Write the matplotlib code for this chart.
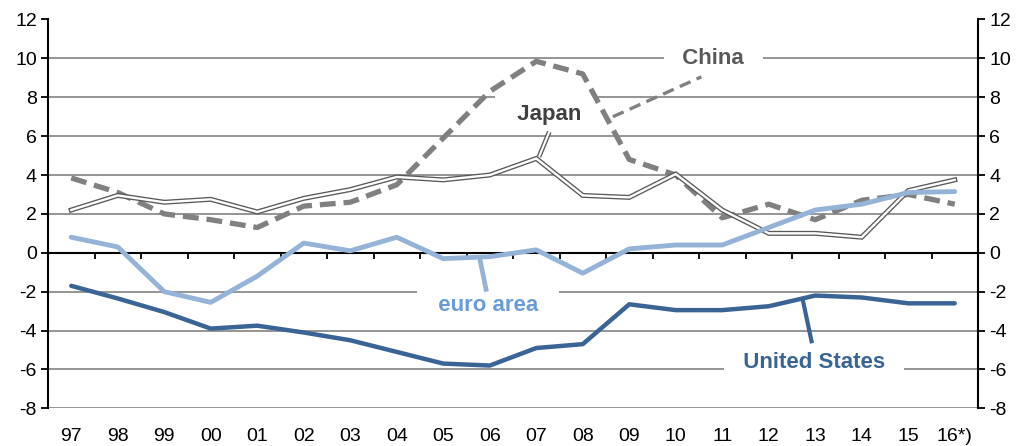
import matplotlib
matplotlib.use('Agg')
import matplotlib.pyplot as plt
import numpy as np

plt.rcParams['font.family'] = ['Liberation Sans', 'DejaVu Sans']
plt.rcParams['axes.unicode_minus'] = False

years = ['97', '98', '99', '00', '01', '02', '03', '04', '05', '06',
         '07', '08', '09', '10', '11', '12', '13', '14', '15', '16*)']
united_states = [-1.7, -2.35, -3.05, -3.9, -3.75, -4.1, -4.5, -5.1, -5.7, -5.8,
                 -4.9, -4.7, -2.65, -2.95, -2.95, -2.75, -2.2, -2.3, -2.6, -2.6]
euro_area = [0.8, 0.3, -2.0, -2.55, -1.2, 0.5, 0.1, 0.8, -0.3, -0.2,
             0.15, -1.05, 0.2, 0.4, 0.4, 1.3, 2.2, 2.5, 3.1, 3.15]
japan = [2.2, 2.95, 2.6, 2.75, 2.1, 2.8, 3.25, 3.9, 3.75, 4.0,
         4.85, 2.95, 2.85, 4.05, 2.2, 1.0, 1.0, 0.8, 3.2, 3.75]
china = [3.85, 3.1, 2.0, 1.7, 1.3, 2.4, 2.6, 3.5, 5.9, 8.3,
         9.85, 9.2, 4.8, 4.0, 1.8, 2.5, 1.7, 2.7, 3.0, 2.5]
yticks = [-8, -6, -4, -2, 0, 2, 4, 6, 8, 10, 12]

C_US = '#3A6496'
C_EURO = '#95B3D7'
C_EURO_TXT = '#6A9BD8'
C_JAPAN = '#595959'
C_CHINA = '#808080'
C_GRID = '#8C8C8C'

fig = plt.figure(figsize=(10.24, 4.46), dpi=100)
ax = fig.add_axes([48 / 1024, 1 - 408.3 / 446, 930 / 1024, (408.3 - 19.5) / 446])
x = np.arange(len(years))
ax.set_xlim(-0.5, len(years) - 0.5)
ax.set_ylim(min(yticks), max(yticks))
ax.set_yticks(yticks, [str(v) for v in yticks])
ax.yaxis.grid(True, color=C_GRID, lw=1.3)
ax.set_axisbelow(True)
for s in ['top', 'bottom']:
    ax.spines[s].set_visible(False)
for s in ['left', 'right']:
    ax.spines[s].set_color('black')
    ax.spines[s].set_linewidth(1.5)
ax.tick_params(axis='y', left=True, right=True, labelleft=True, labelright=True,
               direction='out', length=5, width=1.3, labelsize=14, pad=3)
ax.set_xticks(x, years)
ax.tick_params(axis='x', length=0, pad=14, labelsize=14)

# zero line with category boundary ticks
ax.axhline(0, color='black', lw=1.5, zorder=2)
ax.vlines(x[:-1] + 0.5, 0, -0.3, color='black', lw=1.3, zorder=2)

label_kw = dict(fontsize=16, fontweight='bold', ha='center', va='center', zorder=3)

# labels with white boxes (cover gridlines)
ax.text(13.81, 9.97, '  China  ', color='#595959',
        bbox=dict(facecolor='white', edgecolor='none', boxstyle='square,pad=0.3'), **label_kw)
ax.text(10.21, 7.1, '  Japan ', color='#404040',
        bbox=dict(facecolor='white', edgecolor='none', boxstyle='square,pad=0.42'), **label_kw)
ax.text(8.96, -2.7, '  euro area  ', color=C_EURO_TXT,
        bbox=dict(facecolor='white', edgecolor='none', boxstyle='square,pad=0.4'), **label_kw)
ax.text(15.98, -5.63, '  United States  ', color=C_US,
        bbox=dict(facecolor='white', edgecolor='none', boxstyle='square,pad=0.3'), **label_kw)

# leader lines
ax.plot([11.65, 13.55], [7.0, 9.05], color=C_CHINA, lw=2.4, dashes=(3.5, 2.0), zorder=4)
ax.plot([10.28, 10.06], [6.22, 4.94], color=C_JAPAN, lw=3.4, zorder=4, solid_capstyle='butt')
ax.plot([10.28, 10.06], [6.22, 4.94], color='white', lw=1.5, zorder=4, solid_capstyle='butt')
ax.plot([8.79, 8.92], [-0.34, -1.88], color=C_EURO, lw=3.4, zorder=4)
ax.plot([15.73, 15.92], [-2.4, -4.55], color=C_US, lw=3.0, zorder=4)

# series
ax.plot(x, china, color=C_CHINA, lw=3.8, dashes=(3.0, 1.5), zorder=5)
ax.plot(x, japan, color=C_JAPAN, lw=3.6, zorder=6, solid_joinstyle='miter')
ax.plot(x, japan, color='white', lw=1.7, zorder=6, solid_joinstyle='miter')
ax.plot(x, euro_area, color=C_EURO, lw=3.5, zorder=7, solid_capstyle='round')
ax.plot(x, united_states, color=C_US, lw=3.2, zorder=8, solid_capstyle='round')

fig.savefig('out.png', dpi=100)
